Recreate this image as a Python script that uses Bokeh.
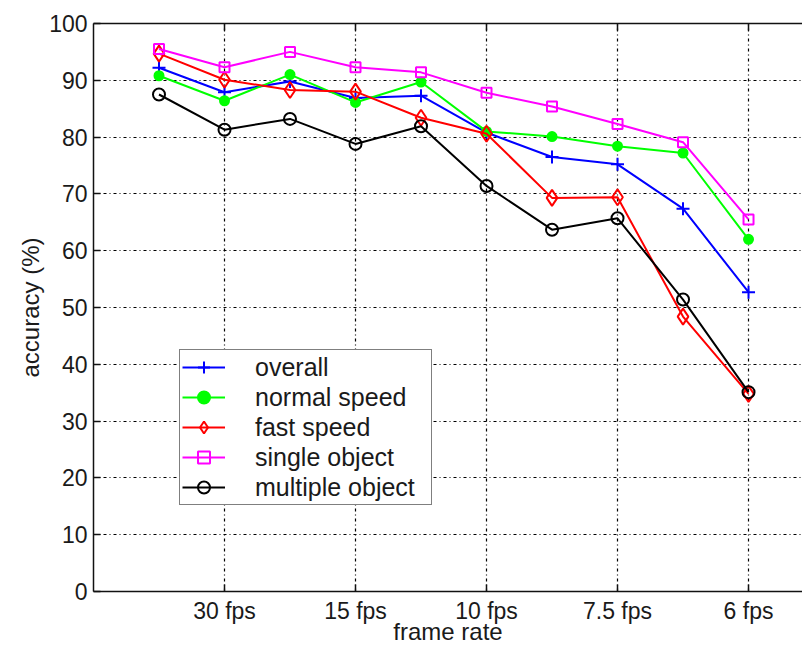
from bokeh.plotting import figure
from bokeh.models import (Range1d, FixedTicker, LinearAxis, Legend, LegendItem)
from bokeh.embed import file_html
from bokeh.resources import INLINE

# ---- data ----
x_idx = [1, 2, 3, 4, 5, 6, 7, 8, 9, 10]
tick_pos = [2, 4, 6, 8, 10]
tick_labels = ["30 fps", "15 fps", "10 fps", "7.5 fps", "6 fps"]
y_ticks = [0, 10, 20, 30, 40, 50, 60, 70, 80, 90, 100]

overall = [92.2, 87.9, 89.8, 86.9, 87.3, 80.8, 76.5, 75.2, 67.4, 52.7]
normal_speed = [90.8, 86.4, 91.0, 86.1, 89.7, 81.0, 80.1, 78.4, 77.2, 62.0]
fast_speed = [94.7, 90.1, 88.3, 88.0, 83.4, 80.6, 69.3, 69.4, 48.4, 34.8]
single_object = [95.5, 92.3, 95.0, 92.3, 91.4, 87.8, 85.4, 82.3, 79.1, 65.5]
multiple_object = [87.5, 81.3, 83.2, 78.8, 81.9, 71.4, 63.7, 65.7, 51.4, 35.1]

FONT = "Liberation Sans"
TXT = "#1a1a1a"

p = figure(width=802, height=648, output_backend="svg", toolbar_location=None,
           x_range=Range1d(0, 10.824), y_range=Range1d(0, 100),
           x_axis_label="frame rate", y_axis_label="accuracy (%)")
p.min_border_left = 93
p.min_border_right = 0
p.min_border_top = 23
p.min_border_bottom = 57
p.outline_line_color = None
p.background_fill_color = "white"
p.border_fill_color = "white"

xt = FixedTicker(ticks=tick_pos)
yt = FixedTicker(ticks=y_ticks)

xa = p.xaxis[0]
xa.ticker = xt
xa.major_label_overrides = {t: l for t, l in zip(tick_pos, tick_labels)}
ya = p.yaxis[0]
ya.ticker = yt

for ax in (xa, ya):
    ax.major_tick_in = 7
    ax.major_tick_out = 0
    ax.minor_tick_line_color = None
    ax.axis_line_width = 1.5
    ax.axis_line_color = "#111111"
    ax.major_tick_line_width = 1.5
    ax.major_tick_line_color = "#111111"
    ax.major_label_text_font = FONT
    ax.major_label_text_font_size = "23px"
    ax.major_label_text_color = TXT
    ax.axis_label_text_font = FONT
    ax.axis_label_text_font_size = "24px"
    ax.axis_label_text_font_style = "normal"
    ax.axis_label_text_color = TXT

xa.major_label_standoff = 6
xa.axis_label_standoff = -9
ya.major_label_standoff = 6
ya.axis_label_standoff = 2

top = LinearAxis(ticker=xt, major_label_overrides={t: "" for t in tick_pos},
                 major_tick_in=7, major_tick_out=0, minor_tick_line_color=None,
                 axis_line_width=1.5, axis_line_color="#111111",
                 major_tick_line_width=1.5, major_tick_line_color="#111111",
                 major_label_standoff=0, major_label_text_font_size="1px")
p.add_layout(top, "above")

for g in p.xgrid:
    g.ticker = xt
for g in p.ygrid:
    g.ticker = yt
p.grid.grid_line_color = "black"
p.grid.grid_line_width = 1.2
p.grid.grid_line_dash = "3 3 1 3"
p.grid.grid_line_alpha = 1.0

series = [
    ("overall", overall, "#0000ff", "cross", 13, "#0000ff", None),
    ("normal speed", normal_speed, "#00ff00", "circle", 9, "#00ff00", "#00ff00"),
    ("fast speed", fast_speed, "#ff0000", "diamond", 16, "#ff0000", None),
    ("single object", single_object, "#ff00ff", "square", 10, "#ff00ff", None),
    ("multiple object", multiple_object, "#000000", "circle", 12, "#000000", None),
]

items = []
for label, ys, col, mk, sz, lc, fc in series:
    r1 = p.line(x_idx, ys, line_color=col, line_width=2)
    r2 = p.scatter(x_idx, ys, marker=mk, size=sz, line_color=lc, line_width=2,
                   fill_color=fc if fc else None)
    items.append(LegendItem(label=label, renderers=[r1, r2]))

legend = Legend(items=items, location=(86, 86))
legend.label_text_font = FONT
legend.label_text_font_size = "25px"
legend.label_text_color = TXT
legend.glyph_width = 43
legend.glyph_height = 30
legend.label_height = 30
legend.label_width = 174
legend.spacing = 0
legend.padding = 2
legend.margin = 0
legend.label_standoff = 30
legend.border_line_color = "black"
legend.border_line_width = 1.5
legend.background_fill_color = "white"
legend.background_fill_alpha = 1.0
p.add_layout(legend, "center")

open("out.html", "w").write(file_html(p, INLINE))
